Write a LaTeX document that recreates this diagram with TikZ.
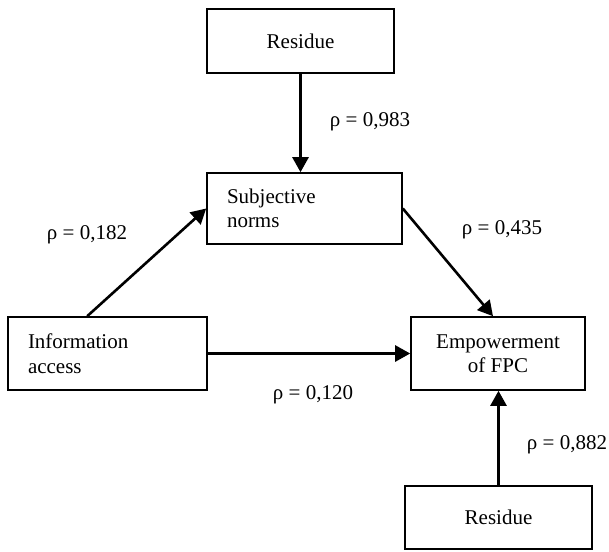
\documentclass[tikz,border=0pt]{standalone}
\usepackage{fontspec}
\setmainfont{Liberation Serif}
\usetikzlibrary{arrows.meta,calc}
\begin{document}
\begin{tikzpicture}[x=1pt,y=-1pt,
  box/.style={draw,line width=1.6pt,rectangle,inner sep=0pt,font=\fontsize{21}{24.5}\selectfont},
  lbl/.style={font=\fontsize{21}{24.5}\selectfont,inner sep=0pt},
  arr/.style={line width=2.6pt,-{Triangle[length=15pt,width=16pt]}}]
\useasboundingbox (0,0) rectangle (609,551);
\node[box,minimum width=187pt,minimum height=64pt] (res1) at (300.5,41) {Residue};
\node[box,minimum width=195pt,minimum height=71pt,text width=155pt,align=left] (subj) at (304.5,208.5) {Subjective\\norms};
\node[box,minimum width=199pt,minimum height=73pt,text width=159pt,align=left] (info) at (107.5,353.5) {Information\\access};
\node[box,minimum width=174pt,minimum height=73pt,align=center] (emp) at (498,353.5) {Empowerment\\of FPC};
\node[box,minimum width=187pt,minimum height=63pt] (res2) at (498.5,517.5) {Residue};
\draw[arr] (res1.south) -- (res1.south |- subj.north);
\draw[arr] ($(info.north west)+(80,0)$) -- (subj.west);
\draw[arr] (subj.east) -- ($(emp.north)+(-5,0)$);
\draw[arr] (info.east) -- (emp.west);
\draw[arr] (res2.north) -- (res2.north |- emp.south);
\node[lbl] (l1) at (370,122) {ρ = 0,983};
\node[lbl] (l2) at (87,235) {ρ = 0,182};
\node[lbl] (l3) at (502,230) {ρ = 0,435};
\node[lbl] (l4) at (313,395) {ρ = 0,120};
\node[lbl] (l5) at (567,445) {ρ = 0,882};
\end{tikzpicture}
\end{document}
